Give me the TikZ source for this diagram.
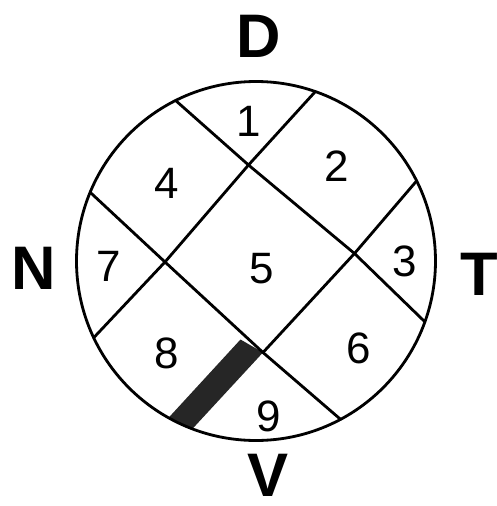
\documentclass[tikz,border=0pt]{standalone}
\usepackage{fontspec}
\setmainfont{Liberation Sans}
\begin{document}
\begin{tikzpicture}[line width=1.6pt,line join=round,line cap=round,font=\fontsize{25}{30}\selectfont]
\tikzset{side/.style={inner sep=0pt,font=\fontsize{35}{40}\selectfont\bfseries}}
\useasboundingbox (-5.12,-4.9) rectangle (4.82,5.22);
\coordinate (O) at (0,0);
% crossings of the four lines
\coordinate (P) at (-0.15,1.92);
\coordinate (Q) at (1.97,0.15);
\coordinate (L) at (-1.82,-0.02);
\coordinate (S) at (0.14,-1.83);
% ends on the rim
\coordinate (a1) at (116.6:3.59);
\coordinate (a2) at (-19.8:3.59);
\coordinate (c1) at (70.7:3.59);
\coordinate (c2) at (-154.7:3.59);
\coordinate (b1) at (157.5:3.59);
\coordinate (b2) at (-61.9:3.59);
\coordinate (d1) at (26.5:3.59);
\begin{scope}
\clip (O) circle (3.59);
\fill[black!85] (S)--(-0.31,-1.57)--(-2.13,-3.55)--(-1.69,-3.81)--cycle;
\end{scope}
\draw (a1)--(P)--(Q)--(a2);
\draw (b1)--(L)--(S)--(b2);
\draw (c1)--(P)--(L)--(c2);
\draw (d1)--(Q)--(S);
\draw (O) circle (3.59);
\foreach \n/\x/\y in {1/-0.15/2.79,2/1.61/1.89,3/2.98/-0.01,4/-1.79/1.55,5/0.11/-0.15,
  6/2.05/-1.75,7/-2.95/-0.11,8/-1.79/-1.85,9/0.25/-3.11}
  \node (r\n) at (\x,\y) {\n};
\node[side] (D) at (0.05,4.49) {D};
\node[side] (N) at (-4.44,-0.15) {N};
\node[side] (T) at (4.47,-0.27) {T};
\node[side] (V) at (0.24,-4.29) {V};
\end{tikzpicture}
\end{document}
